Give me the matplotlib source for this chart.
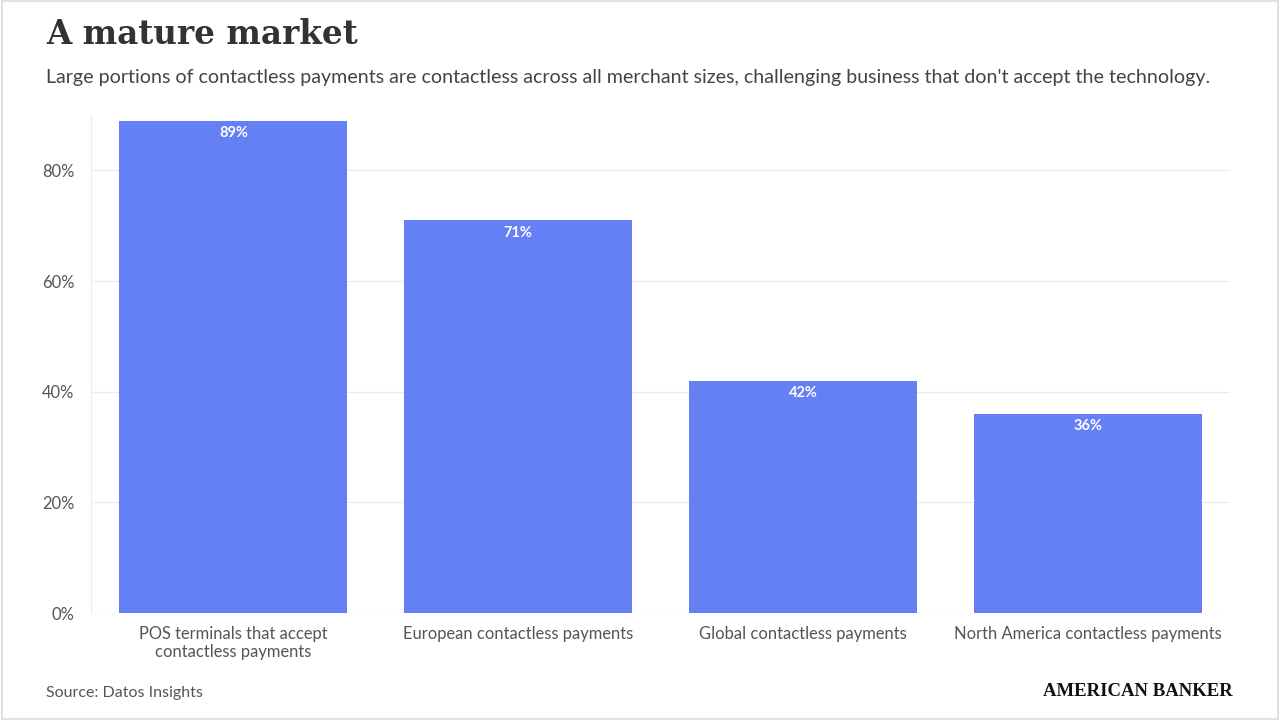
import matplotlib.pyplot as plt
from matplotlib.patches import Rectangle
from matplotlib.ticker import FuncFormatter

categories = ["POS terminals that accept\ncontactless payments",
              "European contactless payments",
              "Global contactless payments",
              "North America contactless payments"]
values = [89, 71, 42, 36]
yticks = [0, 20, 40, 60, 80]

title = "A mature market"
subtitle = ("Large portions of contactless payments are contactless across all merchant sizes, "
            "challenging business that don't accept the technology.")
source = "Source: Datos Insights"

plt.rcParams["font.family"] = ["Lato", "DejaVu Sans"]

fig = plt.figure(figsize=(12.8, 7.2), dpi=100)
W, H = 1280, 720
ax = fig.add_axes([91 / W, 1 - 613 / H, (1230 - 91) / W, (613 - 115) / H])

x = range(len(values))
ax.bar(x, values, width=0.8, color="#6580f5", zorder=2)
for i, v in enumerate(values):
    ax.text(i, v - 1.0, f"{v}%", ha="center", va="top", color="white",
            fontsize=10.5, fontweight="bold", zorder=3)

ax.set_xlim(-0.5, len(values) - 0.5)
ax.set_ylim(0, 90)
ax.set_yticks(yticks)
ax.yaxis.set_major_formatter(FuncFormatter(lambda v, _: f"{v:.0f}%"))
ax.set_xticks(list(x))
ax.set_xticklabels(categories)
ax.tick_params(axis="both", length=0, labelsize=11.9, labelcolor="#555555")
ax.tick_params(axis="x", pad=9)
ax.tick_params(axis="y", pad=12)
ax.grid(axis="y", color="#ebebeb", linewidth=0.8, zorder=0)
for s in ["top", "right", "bottom"]:
    ax.spines[s].set_visible(False)
ax.spines["left"].set_color("#ebebeb")
ax.spines["left"].set_linewidth(0.8)

fig.text(46 / W, 1 - 35 / H, title, fontsize=23.5, fontweight="bold",
         family=["DejaVu Serif"], color="#333333", va="center")
fig.text(46 / W, 1 - 77 / H, subtitle, fontsize=14.1, color="#444444", va="center")
fig.text(46 / W, 1 - 693 / H, source, fontsize=11.5, color="#555555", va="center")
fig.text(1233 / W, 1 - 691 / H, "AMERICAN BANKER", fontsize=13.5, fontweight="bold",
         family=["Liberation Serif"], color="#111111", ha="right", va="center")

fig.patches.append(Rectangle((0.0015, 0.002), 0.997, 0.996, transform=fig.transFigure,
                             fill=False, edgecolor="#e0e0e0", linewidth=1.5))

fig.savefig("out.png", dpi=100)
